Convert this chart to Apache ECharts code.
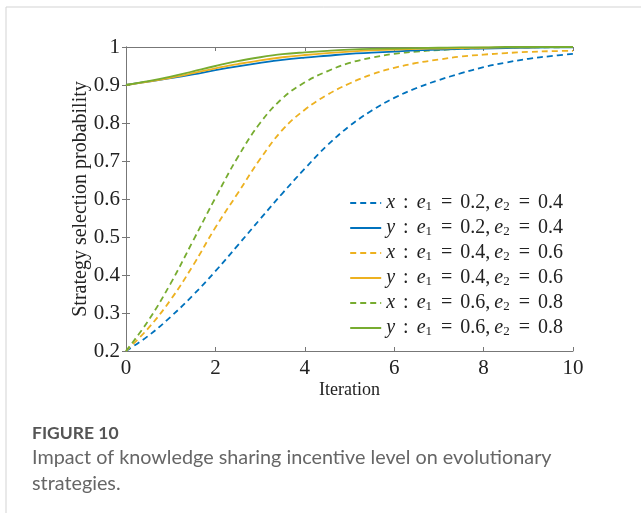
<!DOCTYPE html>
<html>
<head>
<meta charset="utf-8">
<script src="https://cdn.jsdelivr.net/npm/echarts@6/dist/echarts.min.js"></script>
<style>
html,body{margin:0;padding:0;background:#fff;}
#chart{width:641px;height:513px;}
</style>
</head>
<body>
<div id="chart"></div>
<script>
// ---- data ----
const iterations = [0,0.5,1,1.5,2,2.5,3,3.5,4,4.5,5,5.5,6,6.5,7,7.5,8,8.5,9,9.5,10];
const x_e02 = [0.2,0.24,0.29,0.347,0.41,0.478,0.547,0.615,0.68,0.741,0.792,0.833,0.866,0.892,0.913,0.931,0.947,0.959,0.969,0.976,0.982];
const y_e02 = [0.9,0.909,0.918,0.928,0.939,0.949,0.958,0.966,0.972,0.977,0.982,0.985,0.988,0.991,0.993,0.995,0.996,0.997,0.998,0.999,0.999];
const x_e04 = [0.2,0.26,0.335,0.425,0.525,0.615,0.705,0.782,0.835,0.874,0.904,0.928,0.945,0.958,0.967,0.975,0.98,0.984,0.987,0.989,0.99];
const y_e04 = [0.9,0.909,0.919,0.931,0.944,0.955,0.965,0.973,0.979,0.984,0.988,0.991,0.993,0.995,0.996,0.997,0.998,0.999,0.999,1.0,1.0];
const x_e06 = [0.2,0.28,0.378,0.49,0.603,0.71,0.8,0.865,0.907,0.936,0.958,0.972,0.982,0.988,0.992,0.995,0.997,0.998,0.999,0.999,1.0];
const y_e06 = [0.9,0.91,0.922,0.936,0.95,0.963,0.973,0.981,0.986,0.99,0.993,0.995,0.996,0.997,0.998,0.999,0.999,1.0,1.0,1.0,1.0];
const e1Levels = ['0.2','0.4','0.6'];
const e2Levels = ['0.4','0.6','0.8'];
const playerVars = ['x','y'];
const xTicks = [0,2,4,6,8,10];
const yTicks = [0.2,0.3,0.4,0.5,0.6,0.7,0.8,0.9,1];

const colors = ['#0072BD','#EDB120','#77AC30'];
const seriesData = [[x_e02,y_e02],[x_e04,y_e04],[x_e06,y_e06]];
const SERIF = '"Liberation Serif","DejaVu Serif",serif';
const SANS = 'Lato, "Open Sans", sans-serif';
const sp = '\u2009\u2009';

const series = [];
const legendNames = [];
for (let k = 0; k < 3; k++) {
  for (let v = 0; v < 2; v++) {
    const name = playerVars[v] + ' : e1 = ' + e1Levels[k] + ', e2 = ' + e2Levels[k];
    legendNames.push(name);
    series.push({
      name: name,
      type: 'line',
      smooth: 0.4,
      symbol: 'none',
      data: iterations.map((t, i) => [t, seriesData[k][v][i]]),
      lineStyle: {color: colors[k], width: 1.8, type: v === 0 ? [6,4] : 'solid'},
      itemStyle: {color: colors[k]},
      z: v === 0 ? 2 : 3
    });
  }
}

const legendMap = {};
legendNames.forEach((n, idx) => {
  const k = Math.floor(idx / 2), v = idx % 2;
  legendMap[n] = '{it|' + playerVars[v] + '}{n|' + sp + ':' + sp + '}{it|e}{sub|1}{n|' + sp + '=' + sp + e1Levels[k] + ',\u2009}{it|e}{sub|2}{n|' + sp + '=' + sp + e2Levels[k] + '}';
});

const chart = echarts.init(document.getElementById('chart'), null, {renderer: 'canvas'});
const axisColor = '#777';
chart.setOption({
  animation: false,
  backgroundColor: '#fff',
  grid: {left: 126, right: 68, top: 47, bottom: 162, containLabel: false},
  xAxis: [{
    type: 'value', min: 0, max: 10, interval: 2,
    name: 'Iteration', nameLocation: 'middle', nameGap: 30, nameMoveOverlap: false,
    nameTextStyle: {fontFamily: SERIF, fontSize: 18, color: '#222'},
    axisLine: {show: true, lineStyle: {color: axisColor, width: 1}},
    axisTick: {show: true, inside: true, length: 4, lineStyle: {color: axisColor}},
    axisLabel: {fontFamily: SERIF, fontSize: 21, color: '#222', margin: 7,
      formatter: v => xTicks.includes(v) ? String(v) : ''},
    splitLine: {show: false}
  }, {
    type: 'value', min: 0, max: 10, interval: 2, position: 'top',
    axisLine: {show: true, lineStyle: {color: axisColor, width: 1}},
    axisTick: {show: true, inside: true, length: 4, lineStyle: {color: axisColor}},
    axisLabel: {show: false}, splitLine: {show: false}
  }],
  yAxis: [{
    type: 'value', min: 0.2, max: 1, interval: 0.1,
    name: 'Strategy selection probability', nameLocation: 'middle', nameGap: 35, nameMoveOverlap: false,
    nameTextStyle: {fontFamily: SERIF, fontSize: 20, color: '#222'},
    axisLine: {show: true, lineStyle: {color: axisColor, width: 1}},
    axisTick: {show: true, inside: true, length: 4, lineStyle: {color: axisColor}},
    axisLabel: {fontFamily: SERIF, fontSize: 21, color: '#222', margin: 6,
      formatter: v => {
        const r = Math.round(v * 10) / 10;
        return yTicks.includes(r) ? String(r) : '';
      }},
    splitLine: {show: false}
  }, {
    type: 'value', min: 0.2, max: 1, interval: 0.1, position: 'right',
    axisLine: {show: true, lineStyle: {color: axisColor, width: 1}},
    axisTick: {show: true, inside: true, length: 4, lineStyle: {color: axisColor}},
    axisLabel: {show: false}, splitLine: {show: false}
  }],
  legend: {
    data: legendNames,
    orient: 'vertical',
    right: 78, top: 193,
    itemWidth: 31, itemHeight: 10, itemGap: 4.5,
    padding: 0,
    align: 'left',
    itemStyle: {opacity: 0},
    formatter: n => legendMap[n],
    textStyle: {
      color: '#222',
      rich: {
        it: {fontFamily: SERIF, fontStyle: 'italic', fontSize: 20, color: '#222', lineHeight: 21},
        n: {fontFamily: SERIF, fontSize: 20, color: '#222', lineHeight: 21},
        sub: {fontFamily: SERIF, fontSize: 13, color: '#222', lineHeight: 21, verticalAlign: 'bottom', padding: [0,1,0,0]}
      }
    }
  },
  graphic: [
    {type: 'line', shape: {x1: 6, y1: 7, x2: 641, y2: 7}, style: {stroke: '#d3d3d3', lineWidth: 1}},
    {type: 'line', shape: {x1: 6, y1: 7, x2: 6, y2: 513}, style: {stroke: '#d3d3d3', lineWidth: 1}},
    {type: 'text', x: 32, y: 433, style: {text: 'FIGURE 10', fontFamily: SANS, fontWeight: 'bold', fontSize: 17.5, fill: '#555', verticalAlign: 'middle'}},
    {type: 'text', x: 32, y: 458, style: {text: 'Impact of knowledge sharing incentive level on evolutionary', fontFamily: SANS, fontSize: 19.8, fill: '#666', verticalAlign: 'middle'}},
    {type: 'text', x: 32, y: 484, style: {text: 'strategies.', fontFamily: SANS, fontSize: 19.8, fill: '#666', verticalAlign: 'middle'}}
  ],
  series: series
});
</script>
</body>
</html>
